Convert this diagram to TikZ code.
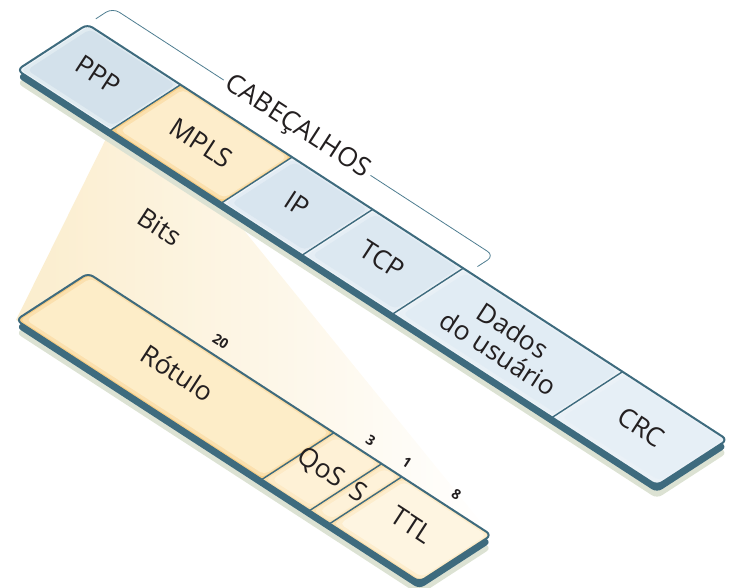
\documentclass[tikz,border=0pt]{standalone}
\usepackage{fontspec}
\setmainfont{Open Sans}
\definecolor{edgec}{HTML}{3E6B7E}
\definecolor{shadowc}{HTML}{DCE2D3}
\definecolor{bracketc}{HTML}{4E7D90}
\definecolor{fanc}{HTML}{FBEDCD}
\definecolor{fanm}{HTML}{FDF5E6}
\definecolor{inkc}{HTML}{231F20}
% blue cells: rim, mid, centre
\definecolor{bRim}{HTML}{EEF4F8}
\definecolor{pppC}{HTML}{D3E1EB}
\definecolor{ipC}{HTML}{D8E5EF}
\definecolor{tcpC}{HTML}{DCE8F1}
\definecolor{datC}{HTML}{E1ECF4}
\definecolor{crcC}{HTML}{E6EFF6}
% yellow cells
\definecolor{yRim}{HTML}{F8CF86}
\definecolor{yMid}{HTML}{FBE0AE}
\definecolor{mplsC}{HTML}{FDEDCB}
\definecolor{rotC}{HTML}{FDEDC8}
\definecolor{qosC}{HTML}{FEF1D6}
\definecolor{sC}{HTML}{FEF2D9}
\definecolor{ttlC}{HTML}{FEF5E1}

% one field of a bar: a0, a1, width, rim colour, mid colour, centre colour
\newcommand\fieldfill[6]{%
  \fill[#4] (#1,0) -- (#2,0) -- (#2,#3) -- (#1,#3) -- cycle;
  \fill[#5, rounded corners=4bp] (#1+2.5,2.5) -- (#2-1.5,2.5) -- (#2-1.5,#3-1.5) -- (#1+2.5,#3-1.5) -- cycle;
  \fill[#6, rounded corners=5bp] (#1+6,6) -- (#2-3,6) -- (#2-3,#3-3) -- (#1+6,#3-3) -- cycle;
}
% body of a bar (shadow and side): length, width
\newcommand\barbody[2]{%
  \fill[shadowc, rounded corners=6bp, yshift=-13bp] (0,0) -- (#1,0) -- (#1,#2) -- (0,#2) -- cycle;
  \fill[edgec, rounded corners=6bp, yshift=-7bp] (0,0) -- (#1,0) -- (#1,#2) -- (0,#2) -- cycle;
}

\begin{document}
\begin{tikzpicture}[x=1bp, y=-1bp,
  barframe/.style={x={(0.8387bp,-0.5446bp)}, y={(0.8387bp,0.5446bp)}},
  lbl/.style={rotate=-33, font=\fontsize{26.5}{27}\selectfont, text=inkc, inner sep=0pt},
  bitnum/.style={rotate=-33, font=\bfseries\fontsize{14}{15}\selectfont, text=inkc, inner sep=0pt},
  divider/.style={draw=edgec, line width=1.4bp},
  outline/.style={draw=edgec, line width=2bp, rounded corners=6bp}]
\path[use as bounding box] (0,0) rectangle (731,588);

% ---------- frame corners used by the fan ----------
\begin{scope}[shift={(17,70)}, barframe]
  \coordinate (mplsL) at (111,0);
  \coordinate (mplsR) at (244,0);
\end{scope}
\begin{scope}[shift={(16,320)}, barframe]
  \coordinate (lowL) at (0,0);
  \coordinate (lowR) at (481,86);
\end{scope}

% ---------- fan from MPLS down to the label bar ----------
\shade[left color=fanc, middle color=fanm, right color=white]
  (mplsL) -- (mplsR) -- (lowR) -- (lowL) -- cycle;
\node[lbl] (bits) at (160,227) {Bits};

% ---------- upper bar: frame ----------
\begin{scope}[shift={(17,70)}, barframe]
  \barbody{763}{84}
  \begin{scope}
    \clip[rounded corners=6bp] (0,0) -- (763,0) -- (763,84) -- (0,84) -- cycle;
    \fieldfill{0}{111}{84}{bRim}{bRim!50!pppC}{pppC}
    \fieldfill{111}{244}{84}{yRim}{yMid}{mplsC}
    \fieldfill{244}{340}{84}{bRim}{bRim!50!ipC}{ipC}
    \fieldfill{340}{448}{84}{bRim}{bRim!50!tcpC}{tcpC}
    \fieldfill{448}{638}{84}{bRim}{bRim!50!datC}{datC}
    \fieldfill{638}{763}{84}{bRim}{bRim!50!crcC}{crcC}
  \end{scope}
  \foreach \a in {111,244,340,448,638} \draw[divider] (\a,0) -- (\a,84);
  \draw[outline] (0,0) -- (763,0) -- (763,84) -- (0,84) -- cycle;

  \node[lbl] (ppp)  at (53,44)  {PPP};
  \node[lbl] (mpls) at (177,43) {MPLS};
  \node[lbl] (ip)   at (290,44) {IP};
  \node[lbl] (tcp)  at (392,44) {TCP};
  \node[lbl, align=center] (dados) at (541,42) {Dados\\do usuário};
  \node[lbl] (crc)  at (700,44) {CRC};

  % bracket over the headers
  \draw[bracketc, line width=0.8bp, rounded corners=8bp]
    (0,94) -- (0,114) -- (455,114) -- (455,94);
  \node[lbl, fill=white, inner sep=4bp] (cab) at (220,114) {CABEÇALHOS};
\end{scope}

% ---------- lower bar: MPLS label fields ----------
\begin{scope}[shift={(16,320)}, barframe]
  \barbody{481}{86}
  \begin{scope}
    \clip[rounded corners=6bp] (0,0) -- (481,0) -- (481,86) -- (0,86) -- cycle;
    \fieldfill{0}{293}{86}{yRim}{yMid}{rotC}
    \fieldfill{293}{350}{86}{yMid}{yMid!40!qosC}{qosC}
    \fieldfill{350}{374}{86}{yMid}{yMid!40!sC}{sC}
    \fieldfill{374}{481}{86}{yMid}{yMid!40!ttlC}{ttlC}
  \end{scope}
  \foreach \a in {293,350,374} \draw[divider] (\a,0) -- (\a,86);
  \draw[outline] (0,0) -- (481,0) -- (481,86) -- (0,86) -- cycle;

  \node[lbl] (rot) at (145,48) {Rótulo};
  \node[lbl] (qos) at (318,45) {QoS};
  \node[lbl] (sb)  at (362,47) {S};
  \node[lbl] (ttl) at (424,48) {TTL};

  \node[bitnum] (n20) at (142,102) {20};
  \node[bitnum] (n3)  at (322,101) {3};
  \node[bitnum] (n1)  at (364,102) {1};
  \node[bitnum] (n8)  at (423,102) {8};
\end{scope}
\end{tikzpicture}
\end{document}
